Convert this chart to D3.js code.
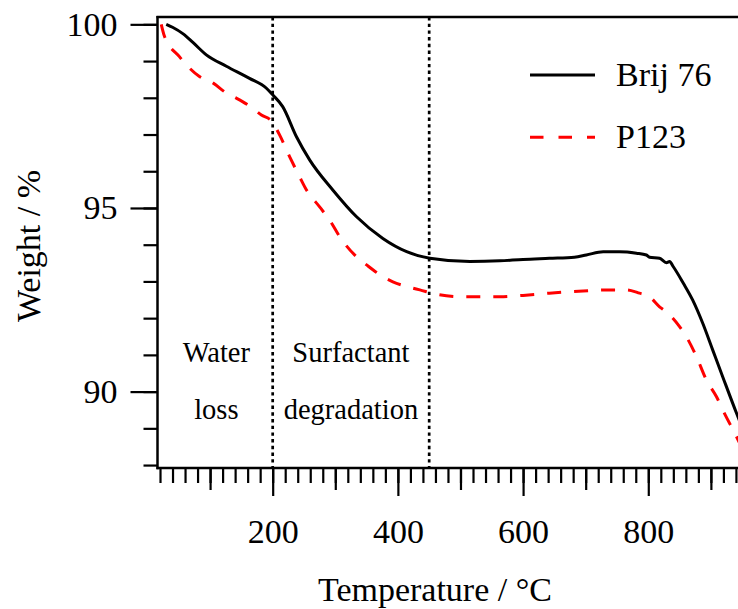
<!DOCTYPE html>
<html>
<head>
<meta charset="utf-8">
<script src="https://cdn.jsdelivr.net/npm/d3@7"></script>
<style>
  html, body { margin: 0; padding: 0; background: #fff; overflow: hidden; }
  svg { display: block; }
  text { font-family: "Liberation Serif", "Times New Roman", serif; fill: #000; }
</style>
</head>
<body>
<script>
// ---------- data ----------
const brijTemp = [30, 40, 57, 73, 94, 126, 163, 190, 200, 216, 238, 259, 296, 334, 376, 414, 451, 515, 563, 600, 642, 682, 701, 728, 754, 781, 797, 802, 818, 829, 834, 840, 856, 871, 887, 903, 919, 941, 960];
const brijWeight = [100.0, 99.92, 99.74, 99.5, 99.17, 98.86, 98.53, 98.26, 98.08, 97.76, 96.94, 96.31, 95.49, 94.76, 94.17, 93.81, 93.63, 93.54, 93.56, 93.6, 93.63, 93.66, 93.72, 93.81, 93.81, 93.77, 93.72, 93.66, 93.63, 93.51, 93.54, 93.4, 92.95, 92.49, 91.86, 91.13, 90.4, 89.41, 88.6];

const p123Temp = [22, 27, 51, 62, 83, 105, 126, 142, 168, 182, 198, 211, 227, 243, 254, 275, 291, 307, 334, 350, 376, 392, 419, 435, 462, 504, 563, 600, 642, 696, 733, 765, 784, 802, 818, 829, 850, 861, 877, 893, 909, 919, 941, 960];
const p123Weight = [100.0, 99.68, 99.12, 98.9, 98.58, 98.4, 98.13, 97.99, 97.72, 97.53, 97.37, 96.99, 96.4, 95.85, 95.49, 95.03, 94.67, 94.22, 93.67, 93.45, 93.13, 92.99, 92.84, 92.77, 92.65, 92.58, 92.58, 92.62, 92.68, 92.74, 92.77, 92.77, 92.69, 92.58, 92.31, 92.17, 91.77, 91.49, 90.95, 90.31, 89.86, 89.5, 88.77, 88.1];

const seriesNames = ["Brij 76", "P123"];
const regionBounds = [200, 450];
const regionLabels = [["Water", "loss"], ["Surfactant", "degradation"]];
const regionCenters = [110, 325];

const xMajorTicks = [200, 400, 600, 800];
const xMediumTicks = [100, 300, 500, 700, 900];
const xMinorTicks = d3.range(20, 1000, 20);
const yMajorTicks = [90, 95, 100];
const yMinorTicks = d3.range(88, 101, 1);

const xTitle = "Temperature / °C";
const yTitle = "Weight / %";

// ---------- layout ----------
const W = 738, H = 609;
const plotLeft = 157.5, plotTop = 17, plotBottom = 468;

const x = d3.scaleLinear().domain([16, 960]).range([plotLeft, plotLeft + 0.626 * 944]);
const y = d3.scaleLinear().domain([87.92, 100.2]).range([plotBottom, plotTop]);

const svg = d3.select("body").append("svg").attr("width", W).attr("height", H);

svg.append("defs").append("clipPath").attr("id", "plotclip")
  .append("rect").attr("x", plotLeft).attr("y", plotTop).attr("width", W - plotLeft + 20).attr("height", plotBottom - plotTop);

// region divider lines
svg.append("g").selectAll("line").data(regionBounds).join("line")
  .attr("x1", d => x(d)).attr("x2", d => x(d))
  .attr("y1", plotTop).attr("y2", plotBottom)
  .attr("stroke", "#000").attr("stroke-width", 2.7).attr("stroke-dasharray", "3.4,3.3");

// region labels
regionLabels.forEach((lines, i) => {
  lines.forEach((t, j) => {
    svg.append("text").attr("x", x(regionCenters[i])).attr("y", 362 + j * 57)
      .attr("text-anchor", "middle").attr("font-size", 28.5).text(t);
  });
});

// curves
const line = d3.line().x(d => x(d[0])).y(d => y(d[1])).curve(d3.curveMonotoneX);
const g = svg.append("g").attr("clip-path", "url(#plotclip)");
g.append("path").datum(p123Temp.map((t, i) => [t, p123Weight[i]]))
  .attr("d", line).attr("fill", "none").attr("stroke", "#ff0000")
  .attr("stroke-width", 3).attr("stroke-dasharray", "14,13");
g.append("path").datum(brijTemp.map((t, i) => [t, brijWeight[i]]))
  .attr("d", line).attr("fill", "none").attr("stroke", "#000")
  .attr("stroke-width", 3);

// Y axis
const yMinorAxis = d3.axisLeft(y).tickValues(yMinorTicks).tickSize(14).tickFormat("");
const yMajorAxis = d3.axisLeft(y).tickValues(yMajorTicks).tickSize(27).tickPadding(13).tickFormat(d3.format("d"));
const gyMin = svg.append("g").attr("transform", `translate(${plotLeft},0)`).call(yMinorAxis);
const gyMaj = svg.append("g").attr("transform", `translate(${plotLeft},0)`).call(yMajorAxis);
[gyMin, gyMaj].forEach(gg => {
  gg.select(".domain").remove();
  gg.selectAll(".tick line").attr("stroke", "#000").attr("stroke-width", 2.2);
});
gyMaj.selectAll(".tick text").attr("font-size", 34).attr("font-family", "Liberation Serif").attr("fill", "#000");

// X axis
const gxMin = svg.append("g").attr("transform", `translate(0,${plotBottom})`)
  .call(d3.axisBottom(x).tickValues(xMinorTicks).tickSize(15).tickFormat(""));
const gxMed = svg.append("g").attr("transform", `translate(0,${plotBottom})`)
  .call(d3.axisBottom(x).tickValues(xMediumTicks).tickSize(22).tickFormat(""));
const gxMaj = svg.append("g").attr("transform", `translate(0,${plotBottom})`)
  .call(d3.axisBottom(x).tickValues(xMajorTicks).tickSize(28).tickFormat(d3.format("d")));
[gxMin, gxMed, gxMaj].forEach(gg => {
  gg.select(".domain").remove();
  gg.selectAll(".tick line").attr("stroke", "#000").attr("stroke-width", 2.2);
});
gxMaj.selectAll(".tick text").attr("font-size", 34).attr("font-family", "Liberation Serif")
  .attr("fill", "#000").attr("y", 74.5).attr("dy", 0);

// frame lines
svg.append("line").attr("x1", plotLeft).attr("x2", plotLeft).attr("y1", plotTop - 1).attr("y2", plotBottom + 1.2)
  .attr("stroke", "#000").attr("stroke-width", 2.5);
svg.append("line").attr("x1", plotLeft - 1).attr("x2", W + 5).attr("y1", plotBottom).attr("y2", plotBottom)
  .attr("stroke", "#000").attr("stroke-width", 2.5);
svg.append("line").attr("x1", plotLeft - 1).attr("x2", W + 5).attr("y1", plotTop).attr("y2", plotTop)
  .attr("stroke", "#000").attr("stroke-width", 2.5);

// axis titles
svg.append("text").attr("transform", `translate(40,246) rotate(-90)`)
  .attr("text-anchor", "middle").attr("font-size", 34).text(yTitle);
svg.append("text").attr("x", 435).attr("y", 600.5)
  .attr("text-anchor", "middle").attr("font-size", 34).text(xTitle);

// legend
const legendStyles = [{ stroke: "#000", dash: null }, { stroke: "#ff0000", dash: "13.5,15" }];
const lg = svg.append("g");
seriesNames.forEach((name, i) => {
  const yy = 75 + i * 62.3;
  const l = lg.append("line").attr("x1", 530).attr("x2", 595).attr("y1", yy).attr("y2", yy)
    .attr("stroke", legendStyles[i].stroke).attr("stroke-width", 3);
  if (legendStyles[i].dash) l.attr("stroke-dasharray", legendStyles[i].dash);
  lg.append("text").attr("x", 616).attr("y", yy + 11).attr("font-size", 34).text(name);
});
</script>
</body>
</html>
